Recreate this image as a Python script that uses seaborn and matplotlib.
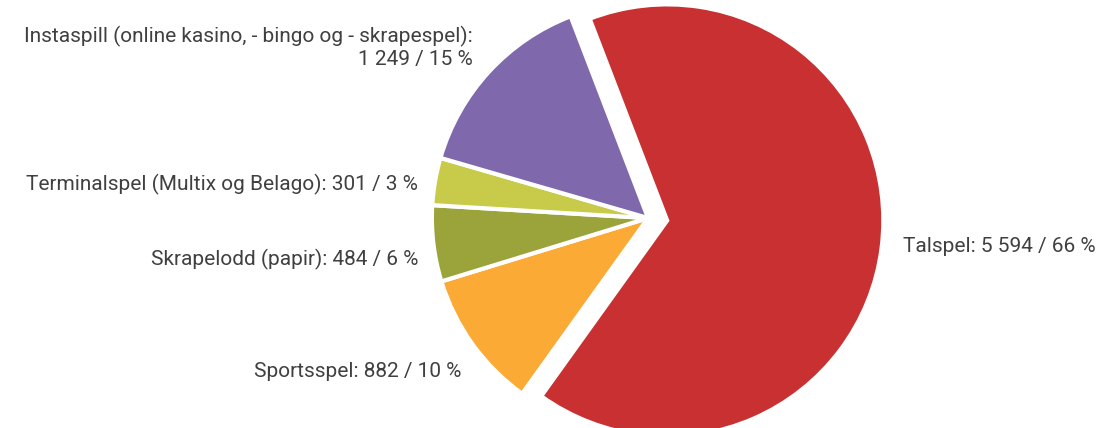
import matplotlib
matplotlib.use("Agg")
import matplotlib.pyplot as plt
import seaborn as sns

categories = [
    "Talspel",
    "Sportsspel",
    "Skrapelodd (papir)",
    "Terminalspel (Multix og Belago)",
    "Instaspill (online kasino, - bingo og - skrapespel)",
]
values = [5594, 882, 484, 301, 1249]
value_labels = ["5 594", "882", "484", "301", "1 249"]
percent_labels = ["66 %", "10 %", "6 %", "3 %", "15 %"]
explode = [0.09, 0, 0, 0, 0]
colors = ["#C83031", "#FBAA36", "#9AA43A", "#C8CB4A", "#7F69AC"]
# small nudges of the labels (data units, radius = 1)
label_nudge = [(0.0, 0.02), (0.03, -0.07), (0.03, -0.06), (0.02, -0.03), (0.0, 0.045)]

sns.set_theme(style="white")
plt.rcParams["font.family"] = ["Roboto", "DejaVu Sans"]

labels = []
for name, v, p in zip(categories, value_labels, percent_labels):
    if name.startswith("Instaspill"):
        labels.append(f"{name}:\n{v} / {p}")
    else:
        labels.append(f"{name}: {v} / {p}")

fig = plt.figure(figsize=(10.99, 4.28), dpi=100)
ax = fig.add_axes([0, 0, 1, 1])

wedges, texts = ax.pie(
    values,
    labels=labels,
    colors=sns.color_palette(colors),
    explode=explode,
    startangle=111,
    counterclock=False,
    labeldistance=1.1,
    radius=1.01,
    wedgeprops={"edgecolor": "white", "linewidth": 3},
    textprops={"fontsize": 15, "color": "#404040", "fontweight": "normal"},
)
for t, (dx, dy) in zip(texts, label_nudge):
    x, y = t.get_position()
    t.set_position((x + dx, y + dy))
    t.set_multialignment("right")
    t.set_linespacing(1.15)

ax.set_xlim(-3.028, 2.107)
ax.set_ylim(-0.981, 1.019)
ax.set_aspect("auto")
ax.axis("off")

fig.savefig("out.png", dpi=100)
